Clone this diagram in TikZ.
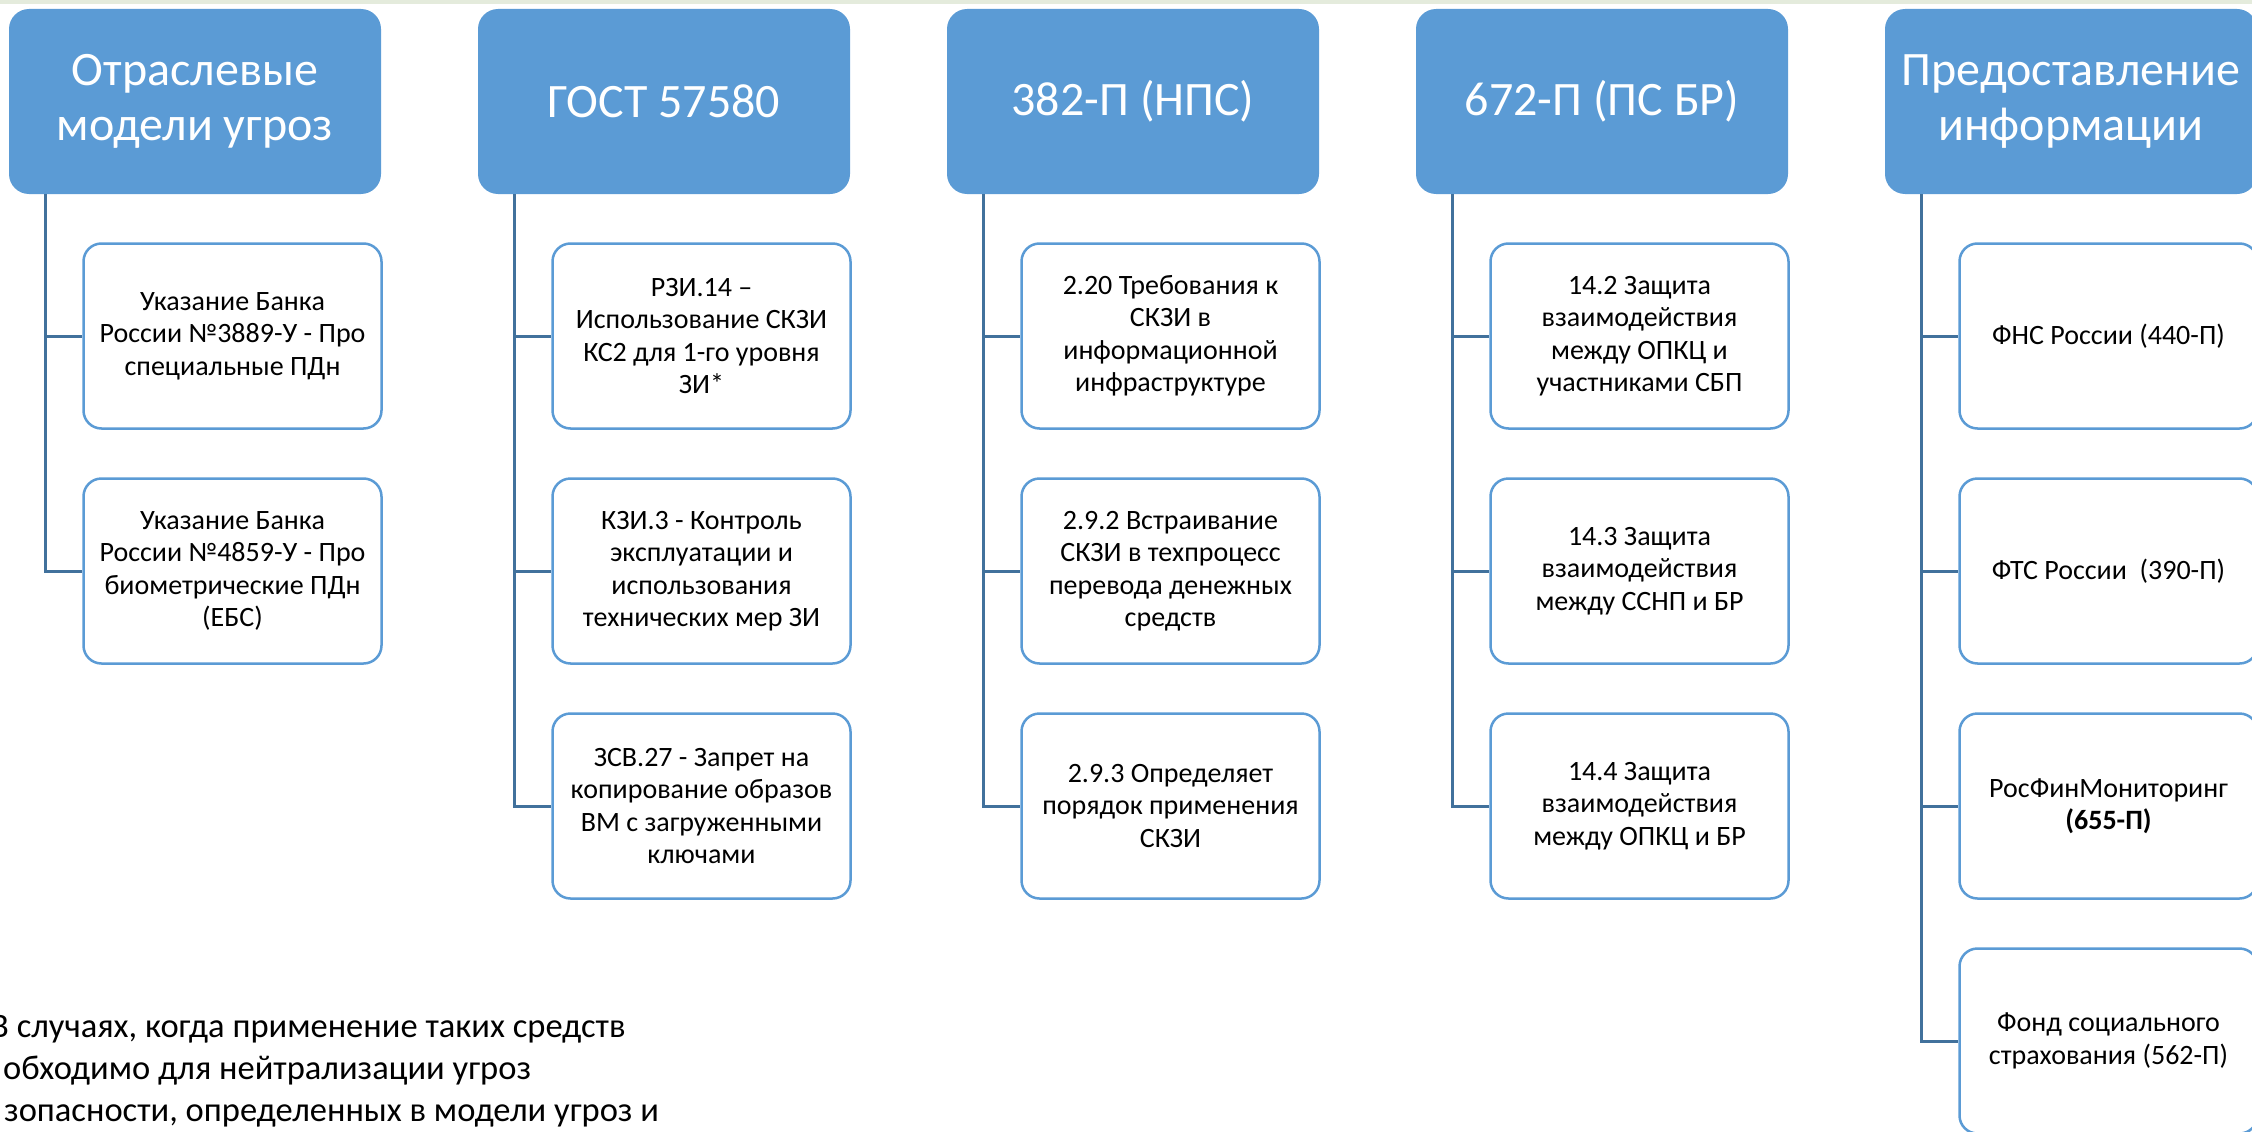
\documentclass[tikz,border=0pt]{standalone}
\usepackage{fontspec}
\setmainfont{Carlito}
\definecolor{hdr}{RGB}{91,155,213}
\definecolor{bord}{RGB}{91,155,213}
\definecolor{conn}{RGB}{65,113,156}
\definecolor{strip}{RGB}{228,235,220}
\begin{document}
\begin{tikzpicture}[x=1pt,y=-1pt,
 hdrbox/.style={rectangle, rounded corners=20pt, fill=hdr, text=white, minimum width=372pt, minimum height=185pt, align=center, inner sep=0pt, font=\fontsize{48}{55}\selectfont},
 itembox/.style={rectangle, rounded corners=18pt, draw=bord, line width=2.5pt, fill=white, minimum width=298pt, minimum height=185pt, align=center, inner sep=0pt, font=\fontsize{28}{32.5}\selectfont},
 connline/.style={draw=conn, line width=3pt},
 note/.style={anchor=base west, inner sep=0pt, font=\fontsize{34.5}{42}\selectfont}]
\useasboundingbox (0,0) rectangle (2252,1132);
\fill[strip] (0,0) rectangle (2252,4);

% headers
\node[hdrbox] (h0) at (195,101.5) {Отраслевые\\модели угроз};
\node[hdrbox] (h1) at (664,101.5) {ГОСТ 57580};
\node[hdrbox] (h2) at (1133,101.5) {382-П (НПС)};
\node[hdrbox] (h3) at (1602,101.5) {672-П (ПС БР)};
\node[hdrbox] (h4) at (2071,101.5) {Предоставление\\информации};

% column 0
\node[itembox] (a1) at (232.5,336) {Указание Банка\\России №3889-У - Про\\специальные ПДн};
\node[itembox] (a2) at (232.5,571) {Указание Банка\\России №4859-У - Про\\биометрические ПДн\\(ЕБС)};
% column 1
\node[itembox] (b1) at (701.5,336) {РЗИ.14 –\\Использование СКЗИ\\КС2 для 1-го уровня\\ЗИ*};
\node[itembox] (b2) at (701.5,571) {КЗИ.3 - Контроль\\эксплуатации и\\использования\\технических мер ЗИ};
\node[itembox] (b3) at (701.5,806) {ЗСВ.27 - Запрет на\\копирование образов\\ВМ с загруженными\\ключами};
% column 2
\node[itembox] (c1) at (1170.5,336) {2.20 Требования к\\СКЗИ в\\информационной\\инфраструктуре};
\node[itembox] (c2) at (1170.5,571) {2.9.2 Встраивание\\СКЗИ в техпроцесс\\перевода денежных\\средств};
\node[itembox] (c3) at (1170.5,806) {2.9.3 Определяет\\порядок применения\\СКЗИ};
% column 3
\node[itembox] (d1) at (1639.5,336) {14.2 Защита\\взаимодействия\\между ОПКЦ и\\участниками СБП};
\node[itembox] (d2) at (1639.5,571) {14.3 Защита\\взаимодействия\\между ССНП и БР};
\node[itembox] (d3) at (1639.5,806) {14.4 Защита\\взаимодействия\\между ОПКЦ и БР};
% column 4
\node[itembox] (e1) at (2108.5,336) {ФНС России (440-П)};
\node[itembox] (e2) at (2108.5,571) {ФТС России~ (390-П)};
\node[itembox] (e3) at (2108.5,806) {РосФинМониторинг\\\textbf{(655-П)}};
\node[itembox] (e4) at (2108.5,1041) {Фонд социального\\страхования (562-П)};

% trunk start points
\coordinate (v0) at (45,194);
\coordinate (v1) at (514,194);
\coordinate (v2) at (983,194);
\coordinate (v3) at (1452,194);
\coordinate (v4) at (1921,194);

% connectors
\draw[connline] (v0) |- (a2.west);
\draw[connline] (v0 |- a1.west) -- (a1.west);
\draw[connline] (v1) |- (b3.west);
\draw[connline] (v1 |- b1.west) -- (b1.west);
\draw[connline] (v1 |- b2.west) -- (b2.west);
\draw[connline] (v2) |- (c3.west);
\draw[connline] (v2 |- c1.west) -- (c1.west);
\draw[connline] (v2 |- c2.west) -- (c2.west);
\draw[connline] (v3) |- (d3.west);
\draw[connline] (v3 |- d1.west) -- (d1.west);
\draw[connline] (v3 |- d2.west) -- (d2.west);
\draw[connline] (v4) |- (e4.west);
\draw[connline] (v4 |- e1.west) -- (e1.west);
\draw[connline] (v4 |- e2.west) -- (e2.west);
\draw[connline] (v4 |- e3.west) -- (e3.west);

% footnote text (cut at the left edge)
\node[note] (n1) at (-10,1037) {В случаях, когда применение таких средств};
\node[note] (n2) at (3,1079) {обходимо для нейтрализации угроз};
\node[note] (n3) at (4,1121) {зопасности, определенных в модели угроз и};
\end{tikzpicture}
\end{document}
